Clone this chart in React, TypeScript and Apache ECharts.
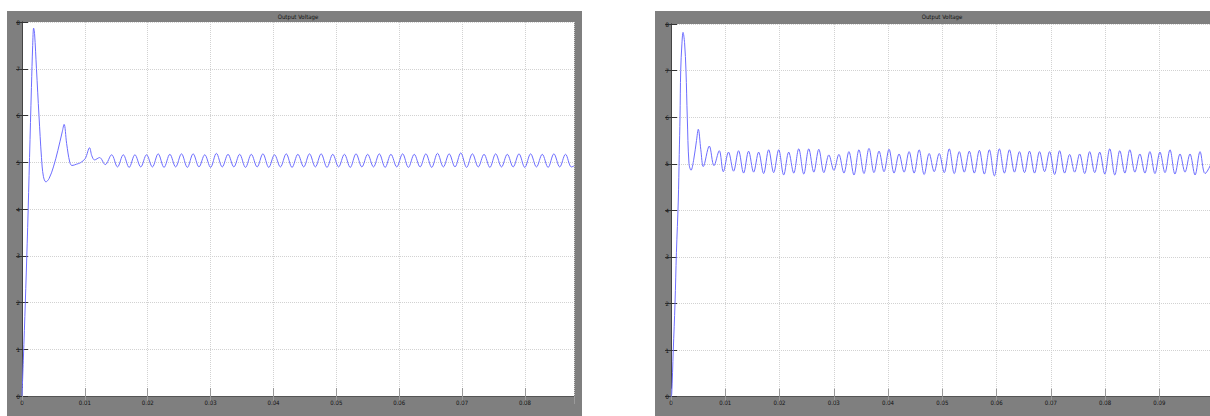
import React, { useEffect, useRef } from "react";
import * as echarts from "echarts";

// ---------- DATA ----------
const chartTitle = "Output Voltage";
const yTickValues = [0, 1, 2, 3, 4, 5, 6, 7, 8];
const leftXMax = 0.0878;
const rightXMax = 0.1;

// Left scope: start-up transient
const leftTransTime = [0, 0.0003, 0.0006, 0.0009, 0.0012, 0.0015, 0.0017, 0.00185, 0.002, 0.0023, 0.0027, 0.0031, 0.0034, 0.0038, 0.0043, 0.005, 0.0057, 0.0064, 0.0067, 0.0071, 0.0076, 0.00795, 0.0087, 0.0093, 0.01006, 0.01075, 0.0111, 0.01154, 0.01234, 0.01324];
const leftTransVolt = [0, 1.1, 2.3, 3.6, 5.1, 6.6, 7.5, 7.87, 7.75, 7.0, 6.0, 5.1, 4.7, 4.58, 4.65, 4.9, 5.25, 5.65, 5.81, 5.4, 5.0, 4.93, 4.96, 4.99, 5.08, 5.31, 5.14, 5.05, 5.1, 4.95];
// Left scope: steady ripple peaks and troughs
const leftPeakTime = [0.01426, 0.01611, 0.01796, 0.01981, 0.02166, 0.02352, 0.02537, 0.02722, 0.02907, 0.03092, 0.03277, 0.03462, 0.03647, 0.03832, 0.04017, 0.04203, 0.04388, 0.04573, 0.04758, 0.04943, 0.05128, 0.05313, 0.05498, 0.05683, 0.05868, 0.06054, 0.06239, 0.06424, 0.06609, 0.06794, 0.06979, 0.07164, 0.07349, 0.07534, 0.07719, 0.07905, 0.0809, 0.08275, 0.0846, 0.08645];
const leftPeakVolt = [5.16, 5.16, 5.16, 5.16, 5.18, 5.17, 5.18, 5.18, 5.16, 5.19, 5.17, 5.17, 5.17, 5.18, 5.16, 5.18, 5.17, 5.18, 5.18, 5.17, 5.17, 5.18, 5.17, 5.18, 5.17, 5.18, 5.17, 5.18, 5.19, 5.18, 5.2, 5.18, 5.17, 5.18, 5.17, 5.18, 5.18, 5.17, 5.18, 5.17];
const leftTroughTime = [0.01519, 0.01704, 0.01889, 0.02074, 0.02259, 0.02444, 0.0263, 0.02815, 0.03, 0.03185, 0.0337, 0.03555, 0.0374, 0.03925, 0.0411, 0.04295, 0.04481, 0.04666, 0.04851, 0.05036, 0.05221, 0.05406, 0.05591, 0.05776, 0.05961, 0.06146, 0.06332, 0.06517, 0.06702, 0.06887, 0.07072, 0.07257, 0.07442, 0.07627, 0.07812, 0.07997, 0.08183, 0.08368, 0.08553, 0.08738];
const leftTroughVolt = [4.9, 4.89, 4.9, 4.9, 4.89, 4.9, 4.89, 4.9, 4.89, 4.9, 4.9, 4.89, 4.9, 4.89, 4.9, 4.89, 4.9, 4.9, 4.89, 4.9, 4.89, 4.9, 4.9, 4.89, 4.9, 4.89, 4.9, 4.89, 4.9, 4.9, 4.89, 4.9, 4.89, 4.9, 4.9, 4.89, 4.9, 4.89, 4.9, 4.9];
const leftEndTime = [0.0878];
const leftEndVolt = [4.92];

// Right scope: start-up transient
const rightTransTime = [0, 0.00013, 0.00042, 0.00074, 0.001, 0.00134, 0.00152, 0.00166, 0.00179, 0.002, 0.00222, 0.0025, 0.00276, 0.003, 0.00332, 0.00369, 0.0042, 0.0047, 0.00503, 0.0055, 0.00595, 0.00706, 0.00792, 0.0089, 0.00964];
const rightTransVolt = [0, 0.05, 1.0, 2.0, 3.1, 4.2, 5.2, 6.0, 7.0, 7.55, 7.82, 7.6, 7.0, 6.0, 5.0, 4.86, 5.1, 5.5, 5.74, 5.3, 4.94, 5.38, 4.96, 5.28, 4.83];
// Right scope: steady ripple peaks and troughs
const rightPeakTime = [0.0106, 0.01245, 0.0143, 0.01615, 0.018, 0.01985, 0.02169, 0.02354, 0.02539, 0.02724, 0.02909, 0.03094, 0.03279, 0.03464, 0.03649, 0.03834, 0.04018, 0.04203, 0.04388, 0.04573, 0.04758, 0.04943, 0.05128, 0.05313, 0.05498, 0.05683, 0.05867, 0.06052, 0.06237, 0.06422, 0.06607, 0.06792, 0.06977, 0.07162, 0.07347, 0.07532, 0.07716, 0.07901, 0.08086, 0.08271, 0.08456, 0.08641, 0.08826, 0.09011, 0.09196, 0.09381, 0.09565, 0.0975];
const rightPeakVolt = [5.25, 5.28, 5.27, 5.25, 5.3, 5.3, 5.25, 5.32, 5.32, 5.31, 5.19, 5.2, 5.26, 5.3, 5.33, 5.27, 5.31, 5.21, 5.26, 5.3, 5.22, 5.22, 5.32, 5.26, 5.27, 5.29, 5.3, 5.32, 5.3, 5.26, 5.27, 5.26, 5.26, 5.28, 5.2, 5.21, 5.26, 5.25, 5.32, 5.28, 5.3, 5.21, 5.26, 5.25, 5.3, 5.21, 5.21, 5.26];
const rightTroughTime = [0.01153, 0.01338, 0.01523, 0.01707, 0.01892, 0.02077, 0.02262, 0.02447, 0.02632, 0.02817, 0.03002, 0.03187, 0.03372, 0.03556, 0.03741, 0.03926, 0.04111, 0.04296, 0.04481, 0.04666, 0.04851, 0.05036, 0.05221, 0.05405, 0.0559, 0.05775, 0.0596, 0.06145, 0.0633, 0.06515, 0.067, 0.06885, 0.0707, 0.07254, 0.07439, 0.07624, 0.07809, 0.07994, 0.08179, 0.08364, 0.08549, 0.08734, 0.08919, 0.09104, 0.09288, 0.09473, 0.09658, 0.09843];
const rightTroughVolt = [4.84, 4.8, 4.82, 4.79, 4.81, 4.76, 4.8, 4.78, 4.82, 4.81, 4.86, 4.8, 4.76, 4.79, 4.81, 4.83, 4.8, 4.82, 4.8, 4.77, 4.83, 4.81, 4.79, 4.82, 4.8, 4.78, 4.74, 4.8, 4.82, 4.81, 4.8, 4.83, 4.77, 4.8, 4.82, 4.79, 4.81, 4.78, 4.76, 4.8, 4.82, 4.8, 4.79, 4.81, 4.78, 4.82, 4.76, 4.79];
const rightEndTime = [0.1];
const rightEndVolt = [5.12];

// ---------- helpers ----------
function pairs(t: number[], v: number[]): [number, number][] {
  return t.map((x, i) => [x, v[i]] as [number, number]);
}
function merge(...lists: [number, number][][]): [number, number][] {
  const all: [number, number][] = [];
  lists.forEach((l) => all.push(...l));
  all.sort((a, b) => a[0] - b[0]);
  return all;
}

const leftData = merge(
  pairs(leftTransTime, leftTransVolt),
  pairs(leftPeakTime, leftPeakVolt),
  pairs(leftTroughTime, leftTroughVolt),
  pairs(leftEndTime, leftEndVolt)
);
const rightData = merge(
  pairs(rightTransTime, rightTransVolt),
  pairs(rightPeakTime, rightPeakVolt),
  pairs(rightTroughTime, rightTroughVolt),
  pairs(rightEndTime, rightEndVolt)
);

const FRAME = "#7f7f7f";
const LINE = "#6d6dff";
const GRIDC = "#d2d2d2";
const FONT = "'DejaVu Sans Condensed', 'Liberation Sans Narrow', sans-serif";

function xLabel(v: number): string {
  const r = Math.round(v * 100);
  if (Math.abs(v * 100 - r) > 1e-6) return "";
  return r === 0 ? "0" : (r / 100).toFixed(2);
}

function axesFor(gridIndex: number, xMax: number) {
  const xBottom = {
    type: "value",
    gridIndex,
    position: "bottom",
    min: 0,
    max: xMax,
    interval: 0.01,
    axisLine: { show: true, lineStyle: { color: "#555", width: 1 } },
    axisTick: { show: true, inside: true, length: 8, lineStyle: { color: "#9a9a9a", width: 1 } },
    axisLabel: { show: true, formatter: xLabel, fontSize: 6, color: "#111", margin: 3, fontFamily: FONT, showMaxLabel: false },
    splitLine: { show: true, lineStyle: { type: "dotted", color: GRIDC, width: 1 } },
  };
  const xTop = {
    type: "value",
    gridIndex,
    position: "top",
    min: 0,
    max: xMax,
    interval: 0.01,
    axisLine: { show: true, lineStyle: { color: "#555", width: 1 } },
    axisTick: { show: true, inside: true, length: 8, lineStyle: { color: "#9a9a9a", width: 1 } },
    axisLabel: { show: false },
    splitLine: { show: false },
  };
  const yLeft = {
    type: "value",
    gridIndex,
    position: "left",
    min: yTickValues[0],
    max: yTickValues[yTickValues.length - 1],
    interval: 1,
    axisLine: { show: true, lineStyle: { color: "#444", width: 1 } },
    axisTick: { show: true, inside: true, length: 6, lineStyle: { color: "#333", width: 1 } },
    axisLabel: { show: true, fontSize: 6, color: "#111", margin: 2, fontFamily: FONT },
    splitLine: { show: true, lineStyle: { type: "dotted", color: GRIDC, width: 1 } },
  };
  const yRight = {
    type: "value",
    gridIndex,
    position: "right",
    min: yTickValues[0],
    max: yTickValues[yTickValues.length - 1],
    interval: 1,
    axisLine: { show: true, lineStyle: { color: "#444", width: 1 } },
    axisTick: { show: true, inside: true, length: 6, lineStyle: { color: "#333", width: 1 } },
    axisLabel: { show: false },
    splitLine: { show: false },
  };
  return { x: [xBottom, xTop], y: [yLeft, yRight] };
}

export default function App() {
  const ref = useRef<HTMLDivElement>(null);
  useEffect(() => {
    if (!ref.current) return;
    const chart = echarts.init(ref.current, undefined, { renderer: "svg" });
    const a0 = axesFor(0, leftXMax);
    const a1 = axesFor(1, rightXMax);
    chart.setOption({
      animation: false,
      backgroundColor: "#ffffff",
      grid: [
        { left: 22, top: 22, width: 552, height: 374, show: true, backgroundColor: "#ffffff", borderWidth: 0, containLabel: false },
        { left: 671, top: 24, width: 542.6, height: 372.7, show: true, backgroundColor: "#ffffff", borderWidth: 0, containLabel: false },
      ],
      xAxis: [...a0.x, ...a1.x],
      yAxis: [...a0.y, ...a1.y],
      graphic: [
        { type: "rect", z: -10, shape: { x: 7, y: 11, width: 575, height: 410 }, style: { fill: FRAME } },
        { type: "rect", z: -10, shape: { x: 655, y: 11, width: 600, height: 410 }, style: { fill: FRAME } },
        { type: "text", z: 10, x: 298, y: 16, style: { text: chartTitle, fontSize: 6, fill: "#111", align: "center", verticalAlign: "middle", fontFamily: FONT } },
        { type: "text", z: 10, x: 942, y: 16, style: { text: chartTitle, fontSize: 6, fill: "#111", align: "center", verticalAlign: "middle", fontFamily: FONT } },
      ],
      series: [
        {
          type: "line",
          xAxisIndex: 0,
          yAxisIndex: 0,
          data: leftData,
          showSymbol: false,
          smooth: 0.35,
          clip: true,
          lineStyle: { color: LINE, width: 1 },
        },
        {
          type: "line",
          xAxisIndex: 2,
          yAxisIndex: 2,
          data: rightData,
          showSymbol: false,
          smooth: 0.35,
          clip: true,
          lineStyle: { color: LINE, width: 1 },
        },
      ],
    });
    return () => chart.dispose();
  }, []);
  return (
    <div style={{ position: "absolute", left: 0, top: 0, width: 1210, height: 416, overflow: "hidden", background: "#fff" }}>
      <div ref={ref} style={{ width: 1240, height: 416 }} />
    </div>
  );
}
